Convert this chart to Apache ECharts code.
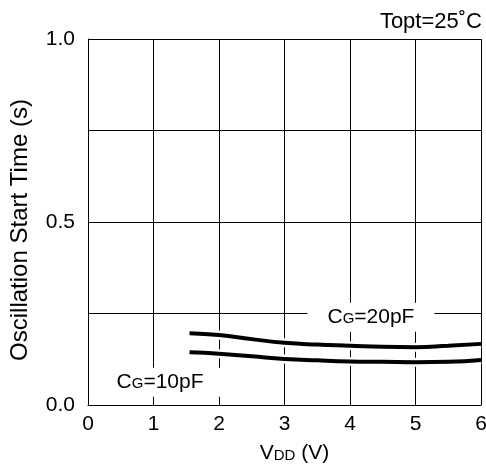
<!DOCTYPE html>
<html>
<head>
<meta charset="utf-8">
<script src="https://cdn.jsdelivr.net/npm/echarts@6/dist/echarts.min.js"></script>
<style>html,body{margin:0;padding:0;background:#fff}#c{width:486px;height:464px}</style>
</head>
<body>
<div id="c"></div>
<script>
// Data
const vdd = [1.55, 2, 2.5, 3, 3.5, 4, 4.5, 5, 5.5, 6];
const cg20 = [0.196, 0.191, 0.180, 0.170, 0.165, 0.162, 0.159, 0.158, 0.162, 0.167];
const cg10 = [0.144, 0.140, 0.133, 0.126, 0.122, 0.119, 0.118, 0.117, 0.118, 0.123];
const xTicks = [0, 1, 2, 3, 4, 5, 6];
const yTickLabels = [0.0, 0.5, 1.0];
const seriesNames = ['CG=20pF', 'CG=10pF'];
const annoAnchors = [[4.32, 0.24], [1.1, 0.062]];

const FONT = '"Liberation Sans", Arial, sans-serif';
const pairs = arr => vdd.map((x, i) => [x, arr[i]]);
const rich = {
  a: {fontSize: 21, fontFamily: FONT, color: '#000'},
  s: {fontSize: 15, fontFamily: FONT, color: '#000', verticalAlign: 'bottom', padding: [0,0,1,0]}
};
const annoLabel = name => '{a|C}{s|G}{a|' + name.slice(2) + '}';

const chart = echarts.init(document.getElementById('c'), null, {renderer: 'canvas'});
chart.setOption({
  animation: false,
  backgroundColor: '#fff',
  title: {
    text: 'Topt=25˚C', right: 4, top: 11, padding: 0,
    textStyle: {fontSize: 22, fontWeight: 'normal', fontFamily: FONT, color: '#000'}
  },
  grid: {left: 88, right: 5, top: 39, bottom: 59, outerBoundsMode: 'none', containLabel: false},
  xAxis: {
    type: 'value', min: xTicks[0], max: xTicks[xTicks.length - 1], interval: 1,
    name: '{a|V}{s|DD}{a| (V)}', nameLocation: 'middle', nameGap: 38,
    nameTextStyle: {rich: rich, padding: [0, 0, 0, 20]},
    axisLine: {show: true, lineStyle: {color: '#000', width: 1}},
    axisTick: {show: false},
    splitLine: {show: true, lineStyle: {color: '#000', width: 1}},
    axisLabel: {fontSize: 21, fontFamily: FONT, color: '#000', margin: 9}
  },
  yAxis: {
    type: 'value', min: 0, max: 1, interval: 0.25,
    name: 'Oscillation Start Time (s)', nameLocation: 'middle', nameGap: 56,
    nameTextStyle: {fontSize: 24, fontFamily: FONT, color: '#000', padding: [0, 16, 0, 0]},
    axisLine: {show: true, lineStyle: {color: '#000', width: 1}},
    axisTick: {show: false},
    splitLine: {show: true, lineStyle: {color: '#000', width: 1}},
    axisLabel: {
      fontSize: 21, fontFamily: FONT, color: '#000', margin: 13,
      formatter: v => yTickLabels.some(t => Math.abs(t - v) < 1e-9) ? v.toFixed(1) : ''
    }
  },
  series: [
    {type: 'line', data: pairs(cg20), smooth: true, symbol: 'none', silent: true,
     lineStyle: {color: '#fff', width: 9}, z: 2},
    {type: 'line', data: pairs(cg10), smooth: true, symbol: 'none', silent: true,
     lineStyle: {color: '#fff', width: 9}, z: 2},
    {name: seriesNames[0], type: 'line', data: pairs(cg20), smooth: true, symbol: 'none',
     lineStyle: {color: '#000', width: 4}, z: 3,
     markPoint: {
       symbol: 'rect', symbolSize: 0, silent: true,
       label: {show: true, position: 'inside', backgroundColor: '#fff', padding: [4, 20, 4, 20], rich: rich},
       data: seriesNames.map((n, i) => ({coord: annoAnchors[i], label: {formatter: annoLabel(n)}}))
     }},
    {name: seriesNames[1], type: 'line', data: pairs(cg10), smooth: true, symbol: 'none',
     lineStyle: {color: '#000', width: 4}, z: 3}
  ]
});
</script>
</body>
</html>
